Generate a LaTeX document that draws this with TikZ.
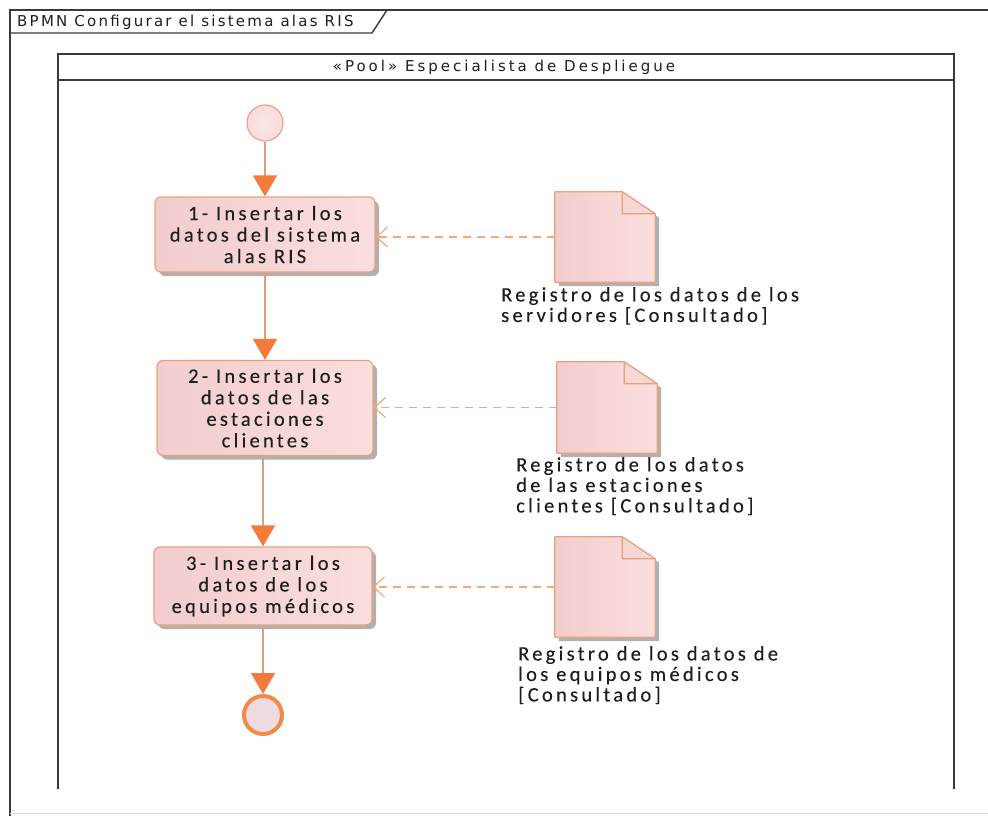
\documentclass[tikz,border=0pt]{standalone}
\usepackage{fontspec}
\usetikzlibrary{arrows.meta,shadows}
\newfontfamily\taskfont[LetterSpace=16,FakeBold=0.2]{Carlito}
\newfontfamily\titlefont[LetterSpace=15]{DejaVu Sans}
\newfontfamily\poolfont[LetterSpace=20]{DejaVu Sans}
\definecolor{taskL}{HTML}{F2CDCD}
\definecolor{taskR}{HTML}{FBDEDE}
\definecolor{taskB}{HTML}{E8A27A}
\definecolor{flowC}{HTML}{D9A080}
\definecolor{headC}{HTML}{F47B3B}
\definecolor{assocC}{HTML}{F2A878}
\definecolor{startF}{HTML}{F9DCDC}
\definecolor{startB}{HTML}{E3A68A}
\definecolor{endB}{HTML}{F28A4A}
\definecolor{endF}{HTML}{EEDCE2}
\definecolor{foldF}{HTML}{F9D6D6}
\definecolor{shadowC}{HTML}{B4B0B0}
\definecolor{lineC}{HTML}{3A3A3A}
\definecolor{txtC}{HTML}{1E1E1E}
\newcommand\mkdoc[4]{%
  \node[docbox, minimum height=#4] (#1) at (#2,#3) {};
  \fill[shadowC, transform canvas={shift={(4pt,-4pt)}}]
    (#1.north west) -- ([xshift=-33pt]#1.north east) -- ([yshift=-22pt]#1.north east)
    -- (#1.south east) -- (#1.south west) -- cycle;
  \path[left color=taskL, right color=taskR, draw=taskB, line width=1.2pt, line join=round]
    (#1.north west) -- ([xshift=-33pt]#1.north east) -- ([yshift=-22pt]#1.north east)
    -- (#1.south east) -- (#1.south west) -- cycle;
  \filldraw[fill=foldF, draw=taskB, line width=1.2pt, line join=round]
    ([xshift=-33pt]#1.north east) -- ([xshift=-33pt,yshift=-22pt]#1.north east)
    -- ([yshift=-22pt]#1.north east) -- cycle;
}
\begin{document}
\begin{tikzpicture}[x=1pt,y=-1pt,
  frameline/.style={draw=lineC, line width=1.4pt},
  poolline/.style={draw=lineC, line width=1.8pt},
  titletxt/.style={font=\titlefont\fontsize{15}{17}\selectfont, text=txtC, inner sep=0pt},
  pooltxt/.style={font=\poolfont\fontsize{15}{17}\selectfont, text=txtC, inner sep=0pt},
  task/.style={rectangle, rounded corners=6pt, draw=taskB, line width=1.2pt,
    left color=taskL, right color=taskR, align=center, text=txtC,
    font=\taskfont\fontsize{20.5}{21.5}\selectfont, inner sep=2pt,
    drop shadow={shadow xshift=4pt, shadow yshift=-4pt, fill=shadowC, opacity=1}},
  docbox/.style={rectangle, minimum width=100pt, inner sep=0pt},
  doclabel/.style={anchor=north west, align=left, inner sep=0pt, text=txtC,
    font=\taskfont\fontsize{20.5}{20.5}\selectfont},
  startev/.style={circle, minimum size=36pt, inner sep=0pt, draw=startB, line width=1.2pt,
    inner color=startF!70!white, outer color=startF},
  endev/.style={circle, minimum size=38pt, inner sep=0pt, draw=endB, line width=4pt, fill=endF},
  flow/.style={draw=flowC, line width=1.6pt,
    -{Triangle[width=24pt,length=21pt,color=headC,fill=headC]}},
  assoc/.style={draw=assocC, line width=1.3pt, dash pattern=on 8pt off 6pt,
    -{Straight Barb[width=20pt,length=11pt,color=assocC,line width=1.2pt]}}
]
\useasboundingbox (0,0) rectangle (988,816);
\fill[white] (0,0) rectangle (988,816);
% outer frame
\draw[frameline] (10,816) -- (10,10) -- (988,10);
\draw[draw=black!12, line width=1pt] (10,813) -- (988,813);
\draw[frameline] (10,33) -- (372,33) -- (387,10);
\node[titletxt, anchor=west] (title) at (17,22) {BPMN Configurar el sistema alas RIS};
% pool
\draw[poolline] (58,789) -- (58,54) -- (954,54) -- (954,789);
\draw[poolline] (58,80) -- (954,80);
\node[pooltxt] (pool) at (504,67) {«Pool» Especialista de Despliegue};
% events and tasks
\node[startev] (s) at (265,123) {};
\node[task, minimum width=220pt, minimum height=75pt] (t1) at (265,234.5)
  {1- Insertar los\\datos del sistema\\alas RIS};
\node[task, minimum width=216pt, minimum height=95pt] (t2) at (265,408)
  {2- Insertar los\\datos de las\\estaciones\\clientes};
\node[task, minimum width=218pt, minimum height=78pt] (t3) at (263,586)
  {3- Insertar los\\datos de los\\equipos médicos};
\node[endev] (e) at (263,715) {};
% documents
\mkdoc{d1}{605}{237}{90pt}
\mkdoc{d2}{607}{407.5}{91pt}
\mkdoc{d3}{605}{587}{100pt}
\node[doclabel] (l1) at (501,287) {Registro de los datos de los\\servidores [Consultado]};
\node[doclabel] (l2) at (516,457) {Registro de los datos\\de las estaciones\\clientes [Consultado]};
\node[doclabel] (l3) at (518,646) {Registro de los datos de\\los equipos médicos\\{[Consultado]}};
% flows
\draw[flow] (s) -- (t1);
\draw[flow] (t1) -- (t2);
\draw[flow] (t3.north |- t2.south) -- (t3.north);
\draw[flow] (t3) -- (e);
% associations
\draw[assoc] (d1.west) -- (d1.west -| t1.east);
\draw[assoc] (d2.west) -- (d2.west -| t2.east);
\draw[assoc] (d3.west) -- (d3.west -| t3.east);
\end{tikzpicture}
\end{document}
